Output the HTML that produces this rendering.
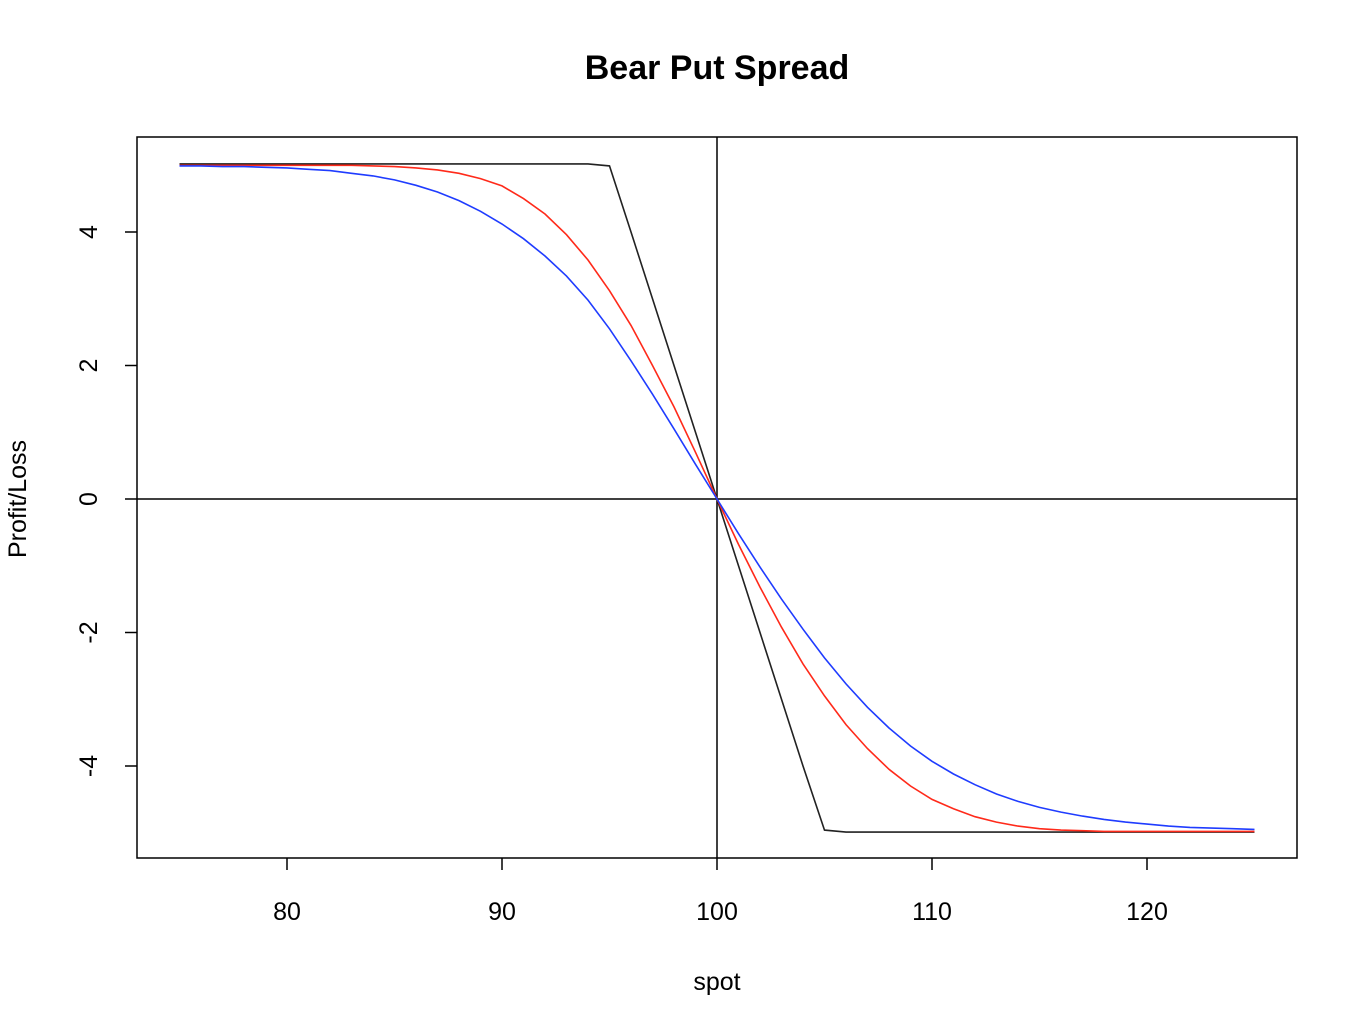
<!DOCTYPE html>
<html><head><meta charset="utf-8"><style>
html,body{margin:0;padding:0;background:#fff;}
svg{display:block;font-family:"Liberation Sans",Arial,sans-serif;}
</style></head><body>
<svg id="chart" width="1362" height="1030" xmlns="http://www.w3.org/2000/svg">
<text x="717" y="79" text-anchor="middle" font-size="34" font-weight="bold">Bear Put Spread</text>
<text x="717" y="990" text-anchor="middle" font-size="25">spot</text>
<text transform="translate(26,499) rotate(-90)" text-anchor="middle" font-size="25">Profit/Loss</text>
<rect x="137" y="137" width="1160" height="721" fill="none" stroke="#000" stroke-width="1.5"/>
<g id="axes"></g>
<g id="series"></g>
</svg>
<script>
const spots = [];
for (let s = 75; s <= 125; s++) spots.push(s);
const payoffExpiry = [5.02,5.02,5.02,5.02,5.02,5.02,5.02,5.02,5.02,5.02,5.02,5.02,5.02,5.02,5.02,5.02,5.02,5.02,5.02,5.02,4.99,4,3,2,1,0,-1,-2,-3,-4,-4.96,-4.99,-4.99,-4.99,-4.99,-4.99,-4.99,-4.99,-4.99,-4.99,-4.99,-4.99,-4.99,-4.99,-4.99,-4.99,-4.99,-4.99,-4.99,-4.99,-4.99];
const valueShort = [5.0,5.0,5.0,5.0,5.0,5.0,5.0,5.0,5.0,4.99,4.98,4.96,4.93,4.88,4.8,4.69,4.5,4.27,3.96,3.58,3.12,2.6,2.0,1.38,0.7,0,-0.68,-1.32,-1.92,-2.47,-2.95,-3.38,-3.74,-4.05,-4.3,-4.5,-4.64,-4.76,-4.84,-4.9,-4.94,-4.96,-4.97,-4.98,-4.98,-4.98,-4.98,-4.98,-4.98,-4.98,-4.98];
const valueLong = [4.99,4.99,4.98,4.98,4.97,4.96,4.94,4.92,4.88,4.84,4.78,4.7,4.6,4.47,4.31,4.12,3.9,3.64,3.34,2.98,2.55,2.07,1.57,1.05,0.52,0,-0.52,-1.02,-1.5,-1.95,-2.38,-2.77,-3.12,-3.43,-3.7,-3.93,-4.12,-4.28,-4.42,-4.53,-4.62,-4.69,-4.75,-4.8,-4.84,-4.87,-4.9,-4.92,-4.93,-4.94,-4.95];
const xTicks = [80,90,100,110,120];
const yTicks = [-4,-2,0,2,4];

const NS = "http://www.w3.org/2000/svg";
const xs = v => 287 + (v - 80) * 21.5;
const ys = v => 499 - v * 66.75;
const axes = document.getElementById('axes');
const series = document.getElementById('series');
function mk(tag, attrs, parent){const e=document.createElementNS(NS,tag);for(const k in attrs)e.setAttribute(k,attrs[k]);parent.appendChild(e);return e;}

xTicks.forEach(t=>{
  const l=mk('line',{x1:xs(t),x2:xs(t),y1:858,y2:870,stroke:'#000','stroke-width':1.5},axes);
  
  
  const tx=mk('text',{x:xs(t),y:920,'text-anchor':'middle','font-size':25},axes);
  tx.textContent=t;
  
  
});
yTicks.forEach(t=>{
  const l=mk('line',{x1:125,x2:137,y1:ys(t),y2:ys(t),stroke:'#000','stroke-width':1.5},axes);
  
  
  const tx=mk('text',{transform:`translate(97,${ys(t)}) rotate(-90)`,'text-anchor':'middle','font-size':25},axes);
  tx.textContent=t;
  
  
});
const h=mk('line',{x1:137,x2:1297,y1:ys(0),y2:ys(0),stroke:'#000','stroke-width':1.5},axes);


const v=mk('line',{x1:xs(100),x2:xs(100),y1:137,y2:858,stroke:'#000','stroke-width':1.5},axes);



function drawSeries(vals,color,name){
  const d=vals.map((y,i)=>(i?'L':'M')+xs(spots[i]).toFixed(1)+' '+ys(y).toFixed(1)).join(' ');
  const p=mk('path',{d:d,fill:'none',stroke:color,'stroke-width':1.6},series);
  
  
}
drawSeries(payoffExpiry,'#222','payoff-at-expiry-line');
drawSeries(valueShort,'#ff2a1a','value-short-maturity-line');
drawSeries(valueLong,'#1f3cff','value-long-maturity-line');
</script>
</body></html>
